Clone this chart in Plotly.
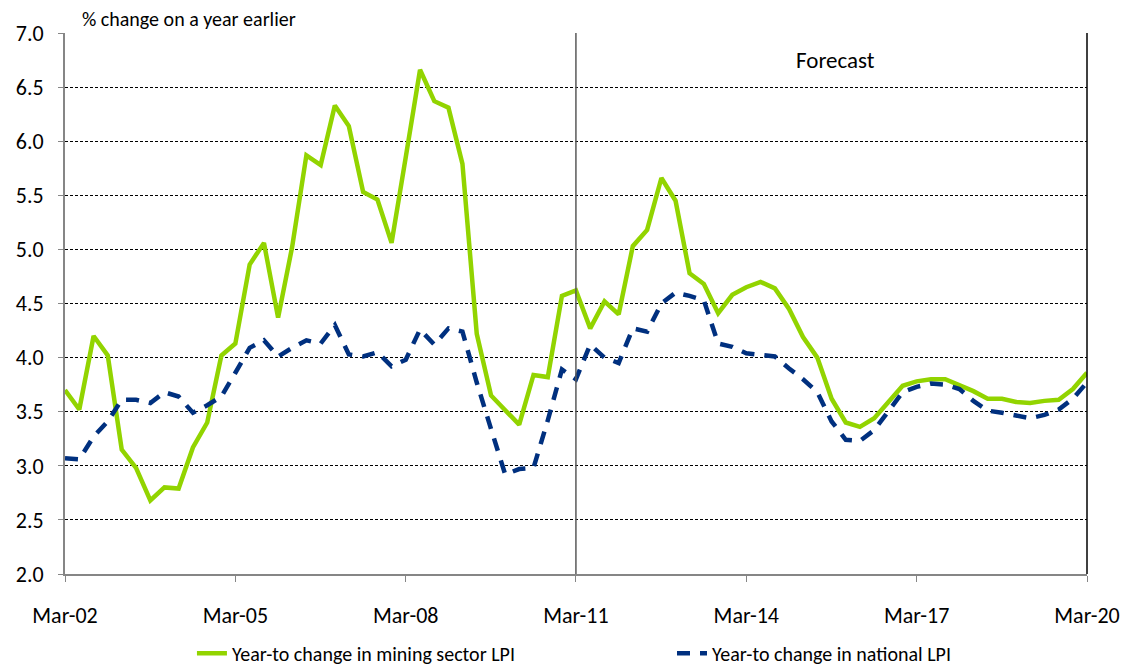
import pandas as pd
import plotly.graph_objects as go

# Quarterly dates Mar-02 .. Mar-20
quarters = pd.date_range("2002-03-01", periods=73, freq="3MS")

mining_lpi = [
    3.70, 3.52, 4.20, 4.02, 3.15, 2.98, 2.68, 2.80, 2.79, 3.17, 3.40, 4.02,
    4.13, 4.86, 5.06, 4.37, 5.02, 5.87, 5.78, 6.33, 6.14, 5.53, 5.46, 5.06,
    5.85, 6.66, 6.37, 6.31, 5.79, 4.22, 3.65, 3.51, 3.38, 3.84, 3.82, 4.57,
    4.62, 4.27, 4.52, 4.40, 5.03, 5.18, 5.66, 5.45, 4.78, 4.68, 4.41, 4.58,
    4.65, 4.70, 4.64, 4.45, 4.19, 4.00, 3.62, 3.40, 3.36, 3.44, 3.59, 3.74,
    3.78, 3.80, 3.80, 3.75, 3.69, 3.62, 3.62, 3.59, 3.58, 3.60, 3.61, 3.71,
    3.86,
]

national_lpi = [
    3.07, 3.06, 3.27, 3.41, 3.61, 3.61, 3.58, 3.68, 3.64, 3.49, 3.56, 3.64,
    3.86, 4.09, 4.16, 4.01, 4.09, 4.16, 4.13, 4.30, 4.03, 4.01, 4.05, 3.92,
    3.98, 4.26, 4.12, 4.27, 4.24, 3.77, 3.34, 2.92, 2.97, 2.98, 3.42, 3.89,
    3.80, 4.12, 4.00, 3.95, 4.27, 4.24, 4.50, 4.60, 4.57, 4.53, 4.13, 4.10,
    4.04, 4.03, 4.01, 3.90, 3.80, 3.68, 3.41, 3.24, 3.23, 3.33, 3.50, 3.68,
    3.73, 3.76, 3.75, 3.71, 3.60, 3.51, 3.49, 3.46, 3.44, 3.47, 3.52, 3.62,
    3.77,
]

tick_dates = ["2002-03-01", "2005-03-01", "2008-03-01", "2011-03-01",
              "2014-03-01", "2017-03-01", "2020-03-01"]
tick_labels = ["Mar-02", "Mar-05", "Mar-08", "Mar-11", "Mar-14", "Mar-17", "Mar-20"]
y_ticks = [2.0, 2.5, 3.0, 3.5, 4.0, 4.5, 5.0, 5.5, 6.0, 6.5, 7.0]

FONT = "Carlito, Lato, 'Liberation Sans Narrow', sans-serif"

fig = go.Figure()
fig.add_trace(go.Scatter(
    x=quarters, y=mining_lpi, mode="lines",
    name="Year-to change in mining sector LPI",
    line=dict(color="#92D400", width=4.5),
    legend="legend",
))
fig.add_trace(go.Scatter(
    x=quarters, y=national_lpi, mode="lines",
    name="Year-to change in national LPI",
    line=dict(color="#00307F", width=4.5, dash="13px,10px"),
    legend="legend2",
))

fig.add_shape(type="line", xref="x", yref="paper", x0="2011-03-01", x1="2011-03-01",
              y0=0, y1=1, line=dict(color="#595959", width=1.5), layer="above")
fig.add_shape(type="line", xref="paper", yref="paper", x0=1, x1=1, y0=0, y1=1,
              line=dict(color="#000000", width=1.5), layer="above")

fig.add_annotation(text="Forecast", xref="paper", yref="paper", x=0.754, y=0.95,
                   showarrow=False, font=dict(size=23, color="#000000", family=FONT),
                   xanchor="center", yanchor="middle")
fig.add_annotation(text="% change on a year earlier", xref="paper", yref="paper",
                   x=0.0147, y=1.0, xanchor="left", yanchor="bottom", yshift=0,
                   showarrow=False, font=dict(size=20, color="#000000", family=FONT))

legend_common = dict(orientation="h", xref="container", yref="container",
                     xanchor="left", yanchor="middle", y=0.018,
                     font=dict(size=20, family=FONT), bgcolor="rgba(0,0,0,0)")

fig.update_layout(
    width=1123, height=657,
    margin=dict(l=57, r=44, t=25, b=91, autoexpand=False),
    paper_bgcolor="white", plot_bgcolor="white",
    font=dict(family=FONT, size=22, color="#000000"),
    showlegend=True,
    legend=dict(x=0.1638, **legend_common),
    legend2=dict(x=0.5913, **legend_common),
    xaxis=dict(
        type="date", range=["2002-03-01", "2020-03-01"],
        tickvals=tick_dates, ticktext=tick_labels,
        showgrid=False, zeroline=False, automargin=False,
        showline=True, linecolor="#868686", linewidth=2,
        ticks="outside", ticklen=6, tickcolor="#868686", tickwidth=1,
        ticklabelstandoff=15,
        tickfont=dict(size=22, family=FONT),
    ),
    yaxis=dict(
        range=[2.0, 7.0], tickvals=y_ticks, tickformat=".1f",
        showgrid=True, gridcolor="#000000", gridwidth=1, griddash="3px,2px",
        zeroline=False, automargin=False,
        showline=True, linecolor="#868686", linewidth=2,
        ticks="outside", ticklen=5, tickcolor="#868686", tickwidth=1,
        ticklabelstandoff=10,
        tickfont=dict(size=22, family=FONT),
    ),
)

fig.write_html("out.html")
